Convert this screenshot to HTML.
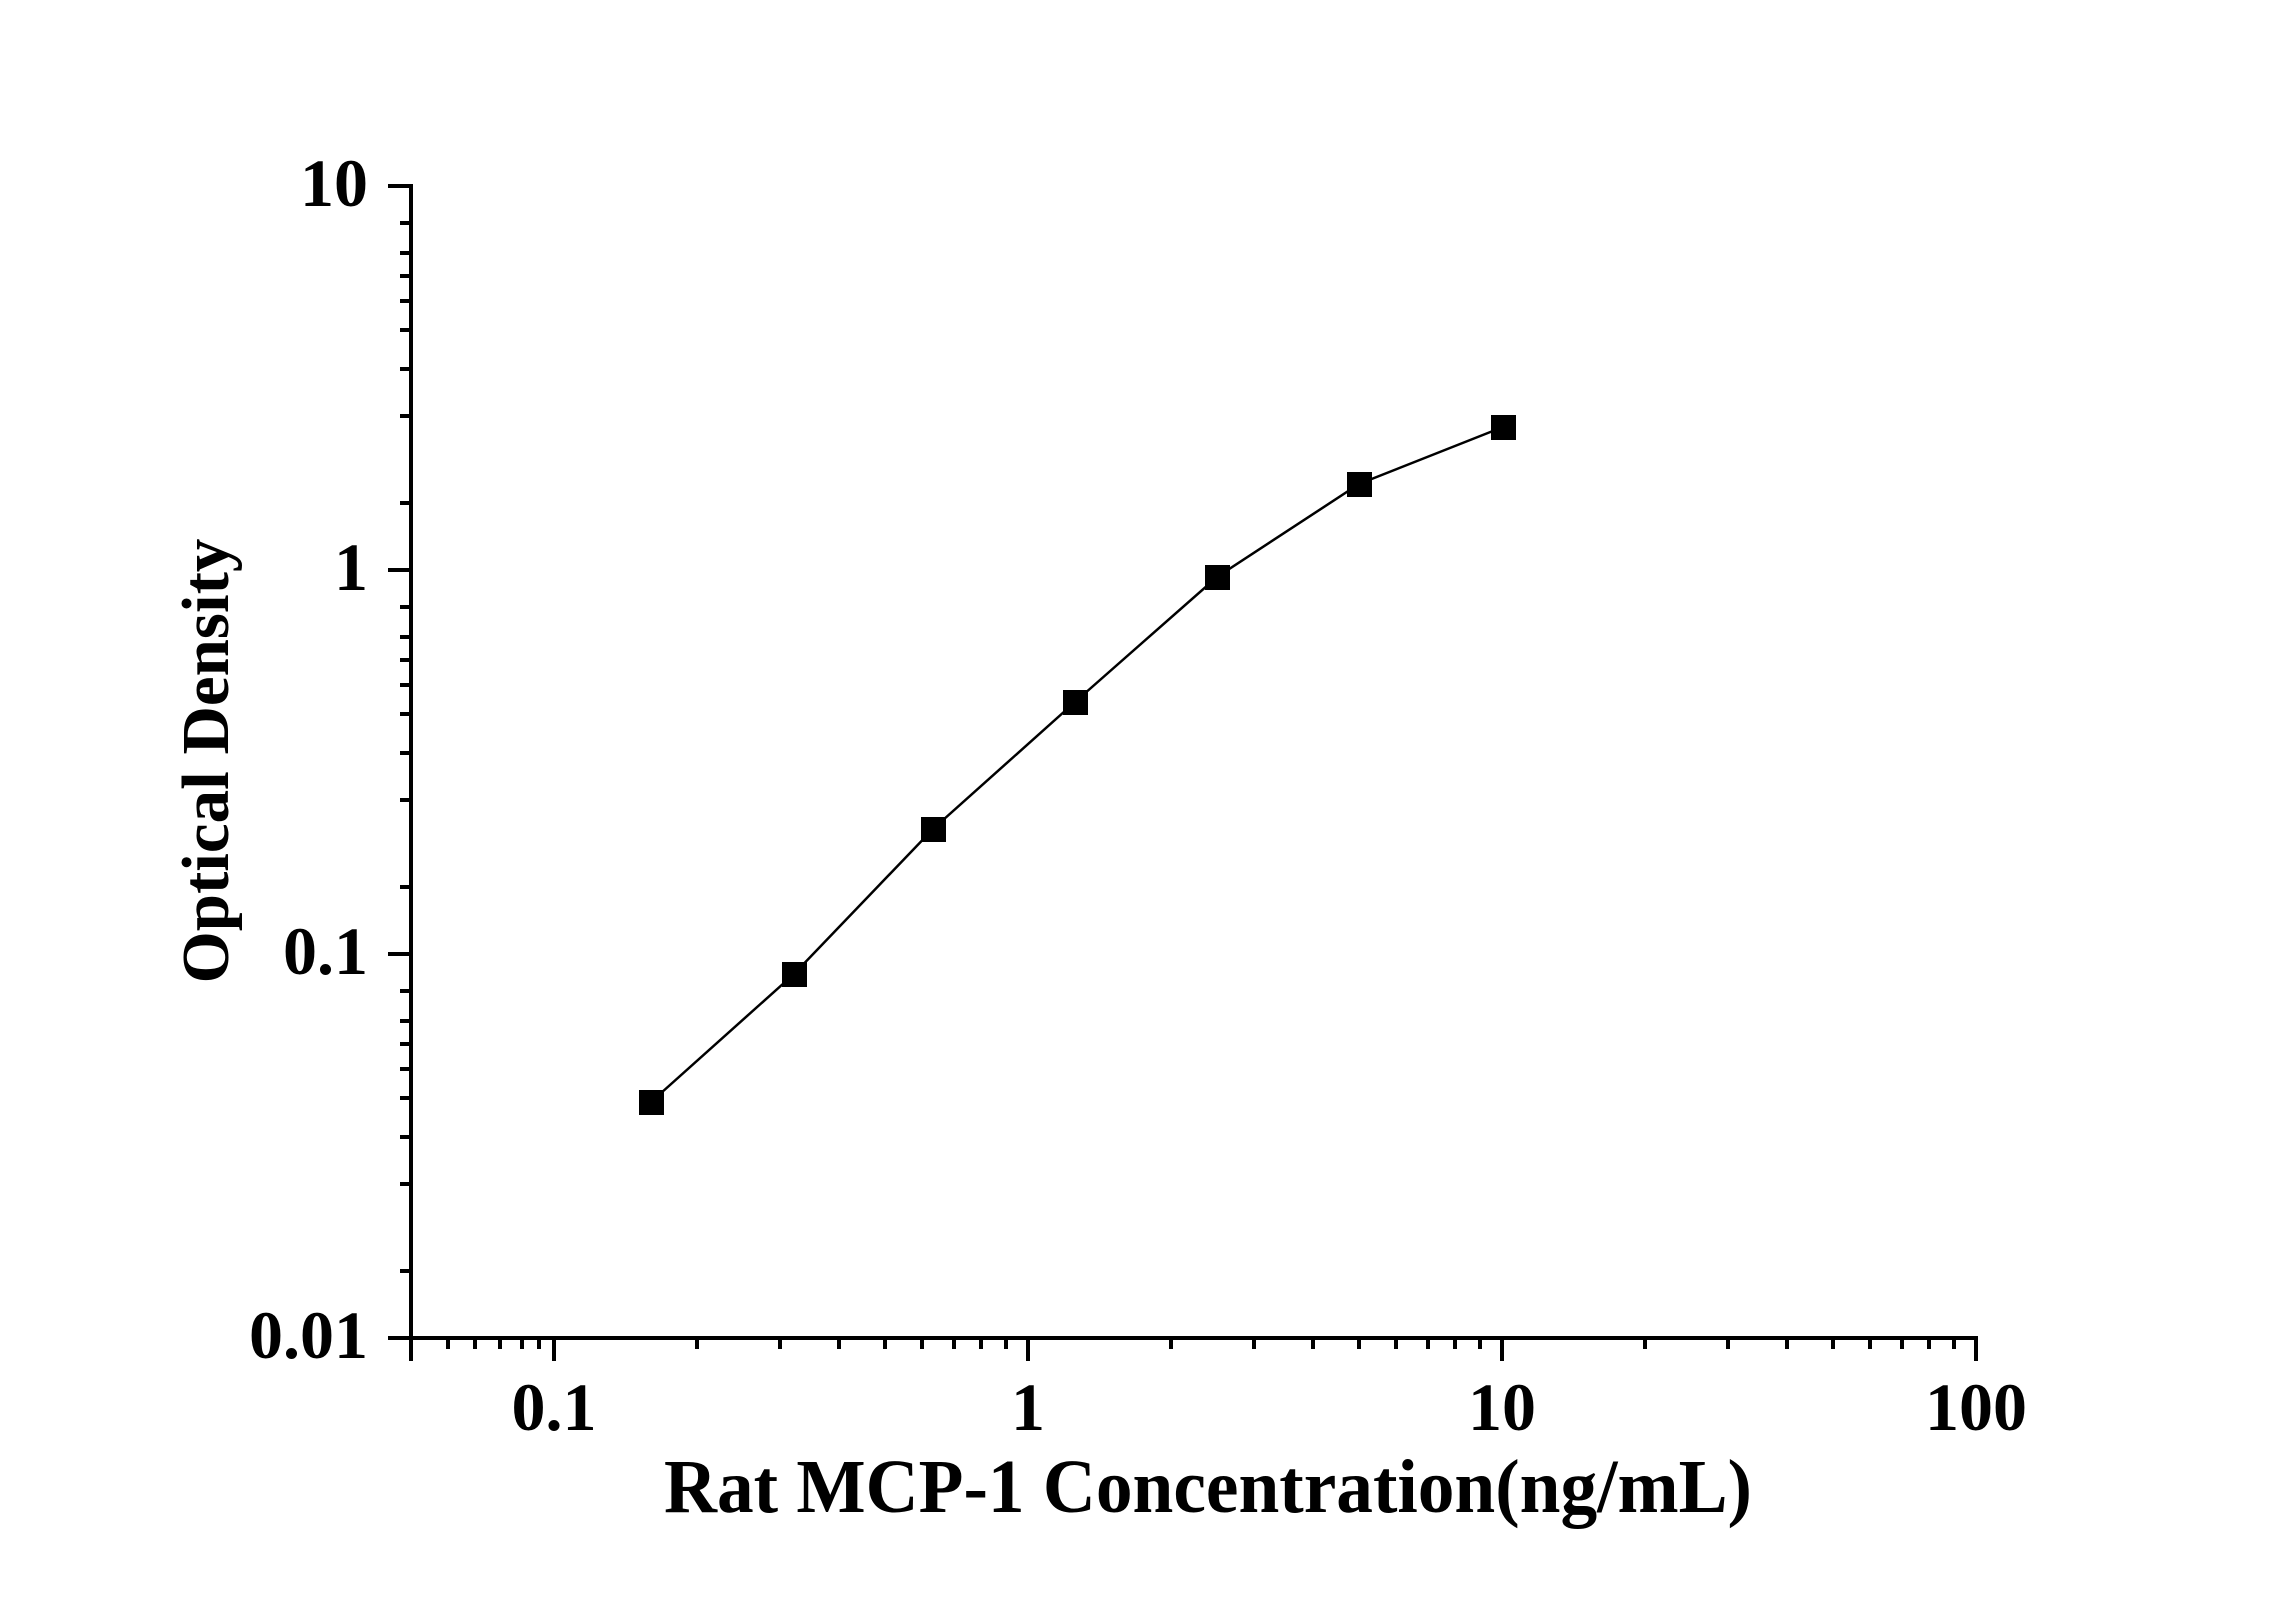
<!DOCTYPE html>
<html><head><meta charset="utf-8"><style>html,body{margin:0;padding:0;background:#fff}</style></head>
<body>
<svg width="2296" height="1604" viewBox="0 0 2296 1604" xmlns="http://www.w3.org/2000/svg" font-family="'Liberation Serif', serif" font-weight="bold">
<rect width="2296" height="1604" fill="#fff"/>
<g stroke="#000" stroke-width="4" fill="none">
<line x1="411" y1="184" x2="411" y2="1340"/>
<line x1="409" y1="1338" x2="1978" y2="1338"/>
<line x1="388" y1="186" x2="411" y2="186"/>
<line x1="388" y1="570" x2="411" y2="570"/>
<line x1="388" y1="954" x2="411" y2="954"/>
<line x1="388" y1="1338" x2="411" y2="1338"/>
<path d="M400 223H411M400 253H411M400 276H411M400 301H411M400 330H411M400 369H411M400 416H411M400 503H411
M400 607H411M400 637H411M400 660H411M400 685H411M400 714H411M400 753H411M400 800H411M400 887H411
M400 991H411M400 1021H411M400 1044H411M400 1069H411M400 1098H411M400 1137H411M400 1184H411M400 1271H411"/>
<line x1="411" y1="1338" x2="411" y2="1361"/>
<line x1="554" y1="1338" x2="554" y2="1361"/>
<line x1="1028" y1="1338" x2="1028" y2="1361"/>
<line x1="1502" y1="1338" x2="1502" y2="1361"/>
<line x1="1976" y1="1338" x2="1976" y2="1361"/>
<path d="M448 1338V1349M475 1338V1349M500 1338V1349M522 1338V1349M539 1338V1349
M697 1338V1349M780 1338V1349M839 1338V1349M885 1338V1349M922 1338V1349M954 1338V1349M981 1338V1349M1006 1338V1349
M1171 1338V1349M1254 1338V1349M1313 1338V1349M1359 1338V1349M1396 1338V1349M1428 1338V1349M1455 1338V1349M1480 1338V1349
M1645 1338V1349M1728 1338V1349M1787 1338V1349M1833 1338V1349M1870 1338V1349M1902 1338V1349M1929 1338V1349M1954 1338V1349"/>
</g>
<polyline points="651,1102 794,974 933,829 1075,702 1217,577 1359,484 1503,427" fill="none" stroke="#000" stroke-width="2.5"/>
<g fill="#000">
<rect x="639" y="1090" width="25" height="25"/>
<rect x="782" y="962" width="25" height="25"/>
<rect x="921" y="817" width="25" height="25"/>
<rect x="1063" y="690" width="25" height="25"/>
<rect x="1205" y="565" width="25" height="25"/>
<rect x="1347" y="472" width="25" height="25"/>
<rect x="1491" y="415" width="25" height="25"/>
</g>
<g font-size="68" fill="#000" text-anchor="end">
<text x="368" y="206">10</text>
<text x="368" y="590">1</text>
<text x="368" y="974">0.1</text>
<text x="368" y="1358">0.01</text>
</g>
<g font-size="68" fill="#000" text-anchor="middle">
<text x="554" y="1430">0.1</text>
<text x="1028" y="1430">1</text>
<text x="1502" y="1430">10</text>
<text x="1976" y="1430">100</text>
</g>
<text x="664" y="1512" font-size="76" textLength="1088" lengthAdjust="spacingAndGlyphs" fill="#000">Rat MCP-1 Concentration(ng/mL)</text>
<text transform="translate(228,761) rotate(-90)" font-size="67" text-anchor="middle" fill="#000">Optical Density</text>
</svg>
</body></html>
